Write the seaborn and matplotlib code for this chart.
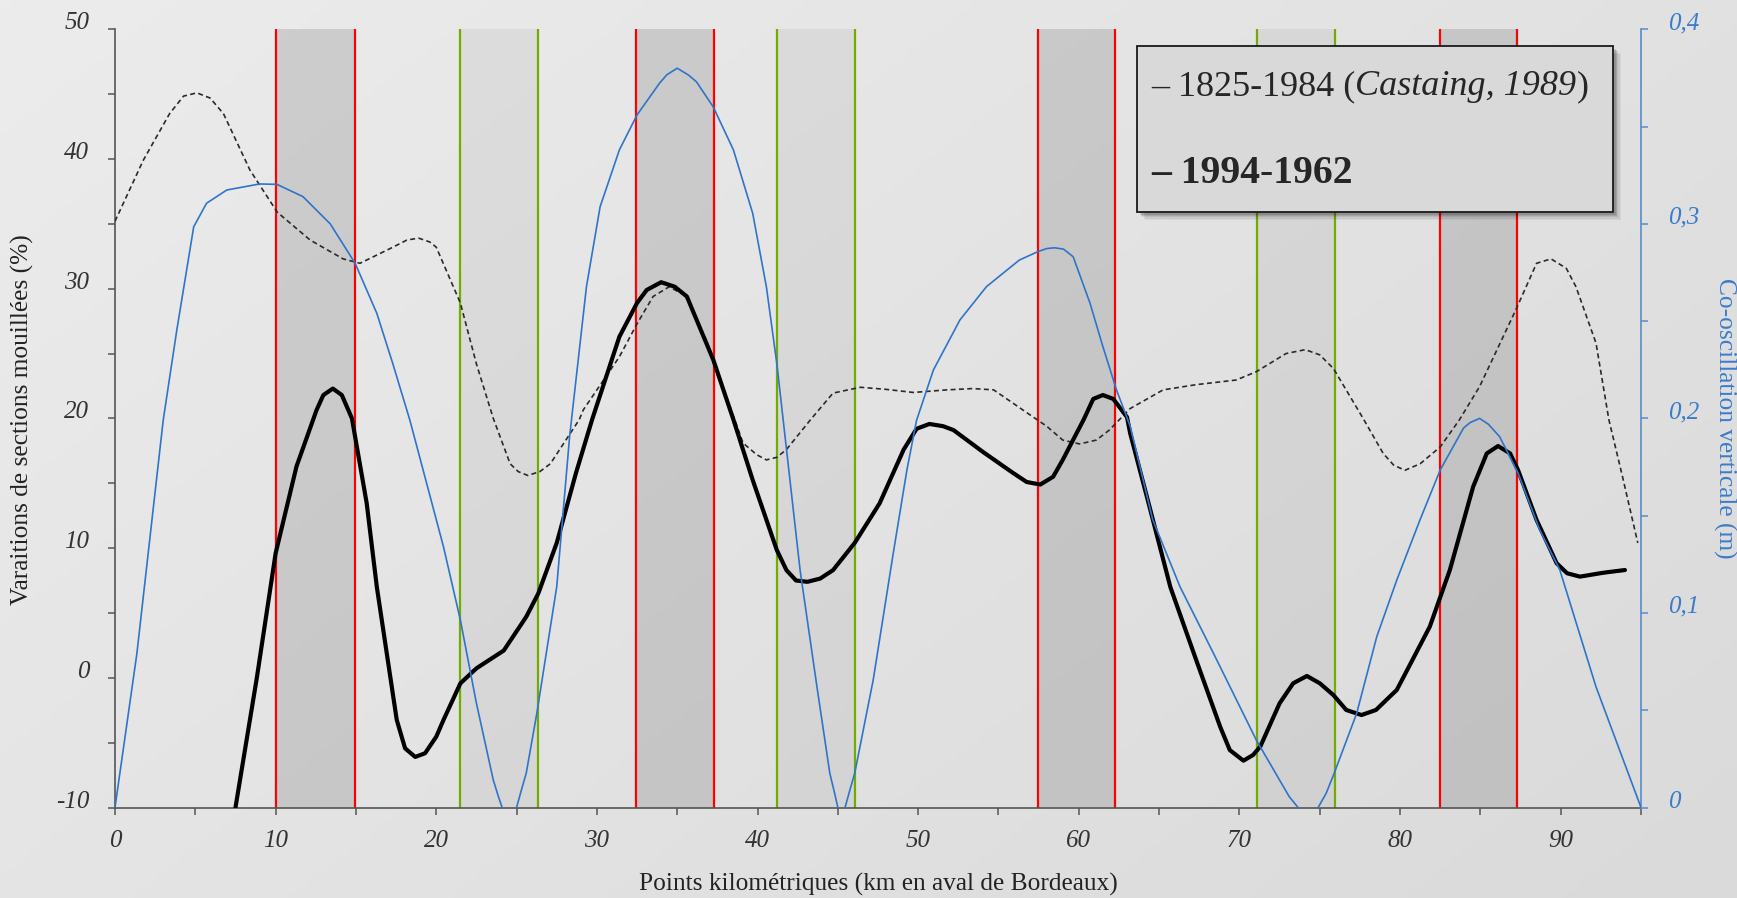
import numpy as np
import matplotlib
matplotlib.use("Agg")
import matplotlib.pyplot as plt
import seaborn as sns
from matplotlib.patches import Rectangle
from matplotlib.colors import LinearSegmentedColormap

# === Data ===
# 1994-1962 : variation of wetted sections (%)
km_1994 = [7.5, 8.83, 10.0, 11.3, 12.55, 12.97, 13.56, 14.12, 14.75, 15.67, 16.3, 17.54,
           18.06, 18.69, 19.3, 20.0, 20.45, 21.5, 22.5, 24.2, 25.6, 26.35, 27.5, 28.7, 29.7,
           31.4, 32.5, 33.1, 34.0, 34.85, 35.6, 37.25, 38.5, 39.7, 41.2, 41.8, 42.4, 43.1,
           43.9, 44.7, 46.05, 47.6, 49.1, 49.9, 50.7, 51.55, 52.2, 54.05, 55.9, 56.75, 57.6,
           58.4, 59.0, 60.3, 60.9, 61.5, 62.15, 63.0, 63.2, 64.4, 65.7, 67.3, 68.8, 69.4,
           70.25, 70.85, 71.3, 72.5, 73.35, 74.2, 75.0, 75.85, 76.65, 77.6, 78.5, 79.8, 81.85,
           83.1, 84.55, 85.4, 86.1, 86.85, 87.35, 88.5, 89.75, 90.4, 91.2, 92.65, 94.0]
var_1994 = [-10.0, 0.0, 9.6, 16.3, 20.65, 21.8, 22.3, 21.8, 20.0, 13.45, 7.0, -3.25,
            -5.44, -6.1, -5.82, -4.54, -3.25, -0.43, 0.73, 2.1, 4.7, 6.5, 10.4, 15.8, 19.9,
            26.3, 28.9, 29.9, 30.5, 30.15, 29.4, 24.5, 19.9, 15.25, 9.85, 8.3, 7.5, 7.4,
            7.65, 8.3, 10.4, 13.45, 17.6, 19.2, 19.57, 19.4, 19.1, 17.4, 15.8, 15.1, 14.9,
            15.5, 16.8, 19.9, 21.5, 21.8, 21.5, 20.1, 18.85, 13.2, 7.0, 1.4, -3.77, -5.57,
            -6.39, -5.95, -5.3, -1.97, -0.42, 0.14, -0.42, -1.33, -2.48, -2.87, -2.48, -0.93, 3.94,
            8.31, 14.73, 17.3, 17.87, 17.3, 16.0, 12.17, 8.83, 8.06, 7.8, 8.1, 8.31]

# 1825-1984 (Castaing, 1989)
km_1825 = [0.0, 1.76, 3.4, 4.27, 5.1, 5.92, 6.75, 8.4, 10.1, 12.15, 14.2, 15.25, 17.3, 18.17,
           18.9, 19.6, 20.0, 21.5, 22.5, 23.55, 24.6, 25.1, 25.7, 26.45, 27.1, 28.9, 29.15,
           31.4, 32.5, 33.5, 34.5, 35.6, 36.2, 36.8, 39.1, 39.95, 40.55, 41.2, 41.8, 43.3,
           44.7, 46.4, 48.0, 49.7, 51.8, 53.4, 54.7, 57.4, 58.0, 59.0, 60.05, 61.1, 61.9,
           63.2, 65.25, 67.3, 69.8, 71.05, 72.9, 74.1, 75.0, 75.85, 77.7, 78.95, 79.6, 80.3,
           81.25, 82.5, 83.7, 84.95, 87.2, 88.5, 89.4, 90.35, 90.95, 92.2, 93.0, 93.85, 94.8]
var_1825 = [35.2, 39.9, 43.5, 44.85, 45.1, 44.7, 43.5, 39.15, 35.9, 33.75, 32.3, 31.96, 33.2,
            33.75, 33.9, 33.6, 33.2, 28.9, 24.2, 20.0, 16.5, 15.9, 15.6, 15.9, 16.5, 19.9,
            20.65, 24.75, 27.3, 29.4, 30.15, 29.4, 27.6, 26.05, 18.1, 17.2, 16.8, 17.0, 17.6,
            19.9, 21.95, 22.4, 22.24, 22.0, 22.2, 22.3, 22.2, 19.9, 19.4, 18.33, 18.03, 18.33,
            19.1, 20.76, 22.2, 22.6, 22.96, 23.6, 25.0, 25.3, 24.9, 23.85, 20.0, 17.3, 16.4,
            16.0, 16.5, 17.8, 19.9, 22.45, 28.35, 31.96, 32.3, 31.57, 30.15, 25.8, 19.9, 15.5,
            10.4]

# co-oscillation verticale (m)
km_osc = [0.0, 1.36, 3.0, 3.84, 4.9, 5.7, 6.96, 9.0, 10.08, 11.7, 13.4, 14.95, 16.3, 17.3,
          18.36, 20.45, 21.5, 22.5, 23.55, 23.87, 24.1, 24.55, 25.0, 25.3, 25.6, 26.26, 27.5,
          28.3, 29.35, 30.2, 31.4, 32.5, 33.9, 34.35, 35.0, 35.7, 36.2, 37.25, 38.5, 39.7,
          40.55, 41.2, 41.6, 42.65, 43.7, 44.5, 44.8, 45.0, 45.2, 45.45, 45.75, 46.05, 47.2,
          48.45, 49.3, 49.9, 50.95, 52.6, 54.25, 56.3, 57.45, 58.0, 58.5, 59.05, 59.65, 60.7,
          61.5, 62.35, 63.2, 64.6, 66.3, 68.4, 71.05, 72.5, 73.1, 73.65, 74.3, 74.9, 75.4,
          75.9, 77.3, 78.55, 79.8, 81.25, 82.5, 83.95, 84.35, 84.95, 85.5, 86.2, 87.35, 88.7,
          89.95, 92.2, 95.0]
osc = [0.0, 0.079, 0.199, 0.245, 0.2985, 0.3106, 0.3174, 0.3205, 0.3203, 0.314, 0.300, 0.2797,
       0.254, 0.228, 0.199, 0.134, 0.0964, 0.0536, 0.0141, 0.0056, 0.0, -0.004, 0.0, 0.009,
       0.0176, 0.0484, 0.1135, 0.1906, 0.2677, 0.3088, 0.338, 0.356, 0.3723, 0.3766, 0.380,
       0.3765, 0.373, 0.360, 0.338, 0.3054, 0.2677, 0.2283, 0.199, 0.122, 0.062, 0.0176,
       0.0073, 0.0, -0.002, 0.0, 0.009, 0.0176, 0.0655, 0.1307, 0.1735, 0.199, 0.2249, 0.2506,
       0.2677, 0.2814, 0.2857, 0.2873, 0.2877, 0.287, 0.2831, 0.2592, 0.2369, 0.2146, 0.196,
       0.148, 0.1135, 0.079, 0.0347, 0.0141, 0.0056, 0.0, -0.004, 0.0, 0.0073, 0.0176, 0.0484,
       0.0878, 0.117, 0.148, 0.1735, 0.195, 0.1978, 0.200, 0.197, 0.1906, 0.1718, 0.1426,
       0.122, 0.062, 0.0]

# shaded sectors (km)
red_bands = [(10.05, 14.93), (32.43, 37.29), (57.43, 62.27), (82.47, 87.3)]
green_bands = [(21.48, 26.32), (41.19, 46.04), (71.09, 75.92)]

left_ticks = [-10, 0, 10, 20, 30, 40, 50]
right_ticks = [0, 0.1, 0.2, 0.3, 0.4]
right_labels = ["0", "0,1", "0,2", "0,3", "0,4"]
x_ticks = [0, 10, 20, 30, 40, 50, 60, 70, 80, 90]

# === Figure ===
W, H = 1737, 898
sns.set_style("ticks")
plt.rcParams['font.family'] = ['Liberation Serif', 'DejaVu Serif']

fig = plt.figure(figsize=(W / 100, H / 100), dpi=100)

# gradient background
bg = fig.add_axes([0, 0, 1, 1], zorder=-10)
gx, gy = np.meshgrid(np.linspace(0, 1, 300), np.linspace(0, 1, 150))
grad = 0.6 * gx + 0.4 * gy
cmap = LinearSegmentedColormap.from_list("bg", ["#ececec", "#dadada"])
bg.imshow(grad, cmap=cmap, aspect="auto", extent=[0, 1, 0, 1], origin="upper", vmin=0, vmax=1)
bg.set_axis_off()

L, R, T, B = 115, 1641, 29.3, 807.5
ax = fig.add_axes([L / W, 1 - B / H, (R - L) / W, (B - T) / H])
ax.set_facecolor("none")

for a, b in red_bands:
    ax.axvspan(a, b, color="black", alpha=0.12, lw=0, zorder=1)
    ax.axvline(a, color="#ff0000", lw=1.6, zorder=2)
    ax.axvline(b, color="#ff0000", lw=1.6, zorder=2)
for a, b in green_bands:
    ax.axvspan(a, b, color="black", alpha=0.05, lw=0, zorder=1)
    ax.axvline(a, color="#72ac00", lw=1.6, zorder=2)
    ax.axvline(b, color="#72ac00", lw=1.6, zorder=2)

sns.lineplot(x=km_1825, y=var_1825, ax=ax, color="#2a2a2a", lw=1.2, zorder=3)
ax.lines[-1].set_dashes([3, 2])
sns.lineplot(x=km_1994, y=var_1994, ax=ax, color="black", lw=3.0, zorder=4,
             solid_joinstyle="round", solid_capstyle="round")

ax.set_xlim(0, 95)
ax.set_ylim(-10, 50)
ax.set_xticks(x_ticks)
ax.set_xticks(np.arange(5, 96, 10), minor=True)
ax.set_xticklabels([str(t) for t in x_ticks], fontstyle="italic", fontsize=18, color="#333333")
ax.set_yticks(left_ticks)
ax.set_yticks(np.arange(-5, 50, 10), minor=True)
ax.set_yticklabels([str(t) for t in left_ticks], fontstyle="italic", fontsize=18,
                   color="#333333", va="baseline")
ax.tick_params(axis="both", which="both", length=5, width=1.1, color="#555555")
ax.tick_params(axis="y", which="major", pad=13.5)
ax.tick_params(axis="x", which="major", pad=11.5)
for s in ["top", "right"]:
    ax.spines[s].set_visible(False)
for s in ["left", "bottom"]:
    ax.spines[s].set_color("#555555")
    ax.spines[s].set_linewidth(1.2)

ax2 = ax.twinx()
sns.lineplot(x=km_osc, y=osc, ax=ax2, color="#2f74c9", lw=1.2, zorder=3,
             solid_joinstyle="round")
ax2.set_ylim(0, 0.4)
ax2.set_xlim(0, 95)
ax2.set_yticks(right_ticks)
ax2.set_yticks(np.arange(0.05, 0.4, 0.1), minor=True)
ax2.set_yticklabels(right_labels, fontstyle="italic", fontsize=18, color="#3a7ccc", va="baseline")
ax2.tick_params(axis="y", which="both", length=5, width=1.1, color="#5b8ac8")
ax2.tick_params(axis="y", which="major", pad=14.5)
for s in ["top", "left", "bottom"]:
    ax2.spines[s].set_visible(False)
ax2.spines["right"].set_color("#5b8ac8")
ax2.spines["right"].set_linewidth(1.2)
ax2.set_ylabel("")
ax.set_ylabel("")

# axis labels
fig.text(22 / W, 1 - 420 / H, "Varaitions de sections mouillées (%)", rotation=90,
         ha="center", va="center", fontsize=18.3, color="#222222")
fig.text(1725 / W, 1 - 418 / H, "Co-oscillation verticale (m)", rotation=270,
         ha="center", va="center", fontsize=18.3, color="#3a7ccc")
fig.text(878 / W, 1 - 891 / H, "Points kilométriques (km en aval de Bordeaux)",
         ha="center", va="baseline", fontsize=18.3, color="#222222")

# legend box with shadow
bx0, by0, bx1, by1 = 1137, 46, 1613, 212
for i, al in enumerate([0.05, 0.06, 0.08, 0.1, 0.12]):
    off = 8 - i * 1.3
    fig.add_artist(Rectangle(((bx0 + off) / W, 1 - (by1 + off) / H), (bx1 - bx0) / W,
                             (by1 - by0) / H, transform=fig.transFigure,
                             facecolor="black", alpha=al, lw=0, zorder=20))
fig.add_artist(Rectangle((bx0 / W, 1 - by1 / H), (bx1 - bx0) / W, (by1 - by0) / H,
                         transform=fig.transFigure, facecolor="#d9d9d9",
                         edgecolor="#1a1a1a", lw=1.3, zorder=21))

renderer = fig.canvas.get_renderer()
x0 = 1151 / W
yb1 = 1 - 95 / H
t = fig.text(x0, yb1, "– 1825-1984 (", fontsize=26, va="baseline", zorder=22)
x = t.get_window_extent(renderer).x1 / W
t = fig.text(x, yb1, "Castaing, 1989", fontsize=26, fontstyle="italic", va="baseline", zorder=22)
x = t.get_window_extent(renderer).x1 / W
fig.text(x, yb1, ")", fontsize=26, va="baseline", zorder=22)
fig.text(x0, 1 - 183 / H, "– 1994-1962", fontsize=28.5, fontweight="bold", va="baseline",
         zorder=22)

fig.savefig("out.png", dpi=100)
